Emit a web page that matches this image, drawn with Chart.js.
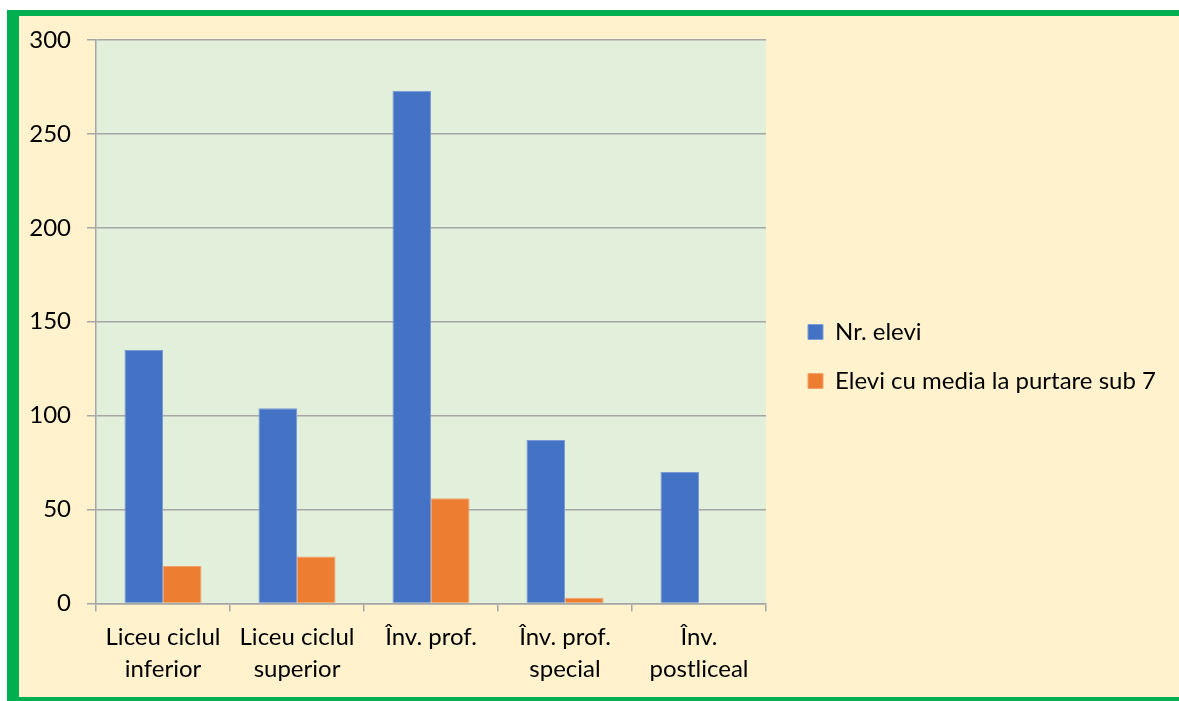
<!DOCTYPE html>
<html lang="ro">
<head>
<meta charset="utf-8">
<title>Elevi</title>
<script src="https://cdn.jsdelivr.net/npm/chart.js@4.4.1/dist/chart.umd.min.js"></script>
<style>
  html, body { margin: 0; padding: 0; background: #ffffff; }
  body { width: 1179px; height: 701px; position: relative; overflow: hidden; }
  .frame {
    position: absolute;
    left: 7px; top: 10px; right: -20px; bottom: 0;
    background: #fff2cc;
    border-left: 12px solid #00b050;
    border-top: 6px solid #00b050;
    border-bottom: 4px solid #00b050;
  }
  #chart { position: absolute; left: 0; top: 0; }
</style>
</head>
<body>
<div class="frame"></div>
<canvas id="chart" width="1179" height="701"></canvas>
<script>
const categories = [
  ["Liceu ciclul", "inferior"],
  ["Liceu ciclul", "superior"],
  ["Înv. prof."],
  ["Înv. prof.", "special"],
  ["Înv.", "postliceal"],
];
const nrElevi = [135, 104, 273, 87, 70];
const eleviSub7 = [20, 25, 56, 3, 0];
const seriesNames = ["Nr. elevi", "Elevi cu media la purtare sub 7"];
const yTicks = [0, 50, 100, 150, 200, 250, 300];

const GRID = "#a6a6a6";
const FONT = { family: "Lato", size: 24 };
const LEGEND_WIDTH = 413;

// light green plot area like the spreadsheet chart
const plotBackground = {
  id: "plotBackground",
  beforeDraw(chart) {
    const { ctx, chartArea } = chart;
    ctx.save();
    ctx.fillStyle = "#e2efda";
    ctx.fillRect(chartArea.left, chartArea.top, chartArea.right - chartArea.left, chartArea.bottom - chartArea.top);
    ctx.restore();
  },
};

// fixed legend width so the plot area ends where it does in the original,
// then shift the legend items a little
const legendPlace = {
  id: "legendPlace",
  beforeLayout(chart) {
    const lg = chart.legend;
    if (!lg || lg._fixedWidth) return;
    const fit = lg.fit.bind(lg);
    lg.fit = function () {
      fit();
      this.width = LEGEND_WIDTH;
    };
    lg._fixedWidth = true;
  },
  afterLayout(chart) {
    const lg = chart.legend;
    if (!lg) return;
    lg.left += 17;
    lg.right += 17;
    lg.top -= 14;
    lg.bottom -= 14;
  },
};

function drawChart() {
  const ctx = document.getElementById("chart");
  new Chart(ctx.getContext("2d"), {
    type: "bar",
    data: {
      labels: categories,
      datasets: [
        {
          label: seriesNames[0],
          data: nrElevi,
          backgroundColor: "#4472c4",
          borderColor: "#7a9bd6",
          borderWidth: 1,
          categoryPercentage: 0.575,
          barPercentage: 1.0,
        },
        {
          label: seriesNames[1],
          data: eleviSub7,
          backgroundColor: "#ed7d31",
          borderColor: "#f2a26d",
          borderWidth: 1,
          categoryPercentage: 0.575,
          barPercentage: 1.0,
        },
      ],
    },
    options: {
      responsive: false,
      animation: false,
      layout: { padding: { top: 40, left: 0, right: 0, bottom: 0 } },
      plugins: {
        tooltip: { enabled: false },
        legend: {
          position: "right",
          labels: {
            color: "#000000",
            font: FONT,
            boxWidth: 15,
            boxHeight: 15,
            padding: 25,
          },
        },
      },
      scales: {
        x: {
          offset: true,
          grid: {
            offset: true,
            drawOnChartArea: false,
            drawTicks: true,
            tickLength: 8,
            color: GRID,
            lineWidth: 1.5,
          },
          border: { display: true, color: GRID, width: 1.5 },
          ticks: {
            color: "#000000",
            font: { family: "Lato", size: 24, lineHeight: 1.33 },
            padding: 10,
            maxRotation: 0,
            autoSkip: false,
          },
          afterFit(scale) { scale.height = 97.5; },
        },
        y: {
          min: 0,
          max: 300,
          afterBuildTicks(scale) { scale.ticks = yTicks.map((v) => ({ value: v })); },
          grid: {
            color: GRID,
            lineWidth: 1.5,
            drawTicks: true,
            tickLength: 9,
          },
          border: { display: true, color: GRID, width: 1.5 },
          ticks: {
            color: "#000000",
            font: FONT,
            padding: 16,
          },
          afterFit(scale) { scale.width = 96; },
        },
      },
    },
    plugins: [plotBackground, legendPlace],
  });
}

document.fonts.load("24px Lato").then(drawChart, drawChart);
</script>
</body>
</html>
